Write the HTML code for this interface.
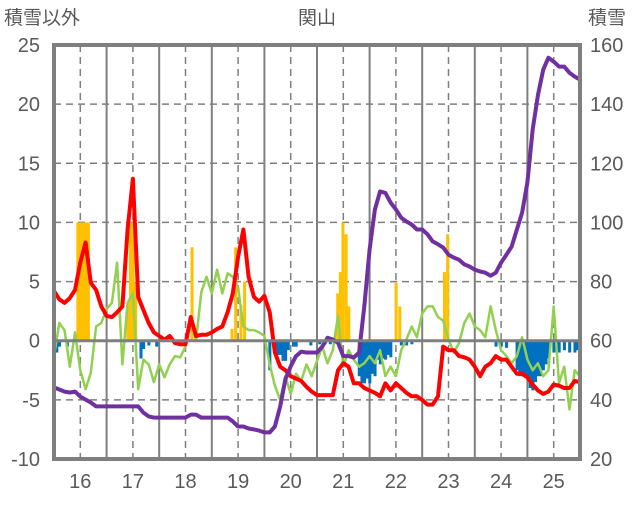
<!DOCTYPE html>
<html><head><meta charset="utf-8"><style>
body{margin:0;background:#fff;}
svg text{font-family:"Liberation Sans","Noto Sans CJK JP",sans-serif;fill:#595959;}
</style></head><body>
<svg id="c" width="636" height="501" viewBox="0 0 636 501" xmlns="http://www.w3.org/2000/svg">
<text x="317" y="24" font-size="19" text-anchor="middle">関山</text>
<text x="4" y="24" font-size="19">積雪以外</text>
<text x="588" y="24" font-size="19">積雪</text>
<g id="grid"></g><g id="bars"></g><g id="lines"></g><g id="axes"></g>
</svg>
<script>
const years=['16','17','18','19','20','21','22','23','24','25'];
const leftTicks=[25,20,15,10,5,0,-5,-10];
const rightTicks=[160,140,120,100,80,60,40,20];
// series sampled every 0.1 year (index i -> t=i/10)
const redVals=[4.2,3.5,3.2,3.6,4.3,6.6,8.3,4.9,4.3,2.9,2.1,2,2.4,2.9,9.4,13.7,3.7,2.6,1.5,0.7,0.4,0.1,0.4,-0.2,-0.3,-0.3,2,0.4,0.5,0.5,0.7,1,1.2,2.4,4,7.1,9.4,5.4,3.7,3.3,3.8,2.4,-1,-2.2,-2.5,-3,-3.2,-3.4,-3.9,-4.3,-4.6,-4.6,-4.6,-4.6,-2.5,-1.9,-2.2,-3.6,-3.6,-4,-4.2,-4.4,-4.7,-3.6,-4.2,-3.6,-4,-4.4,-4.7,-4.7,-5,-5.4,-5.4,-4.7,-0.5,-0.8,-0.8,-1.3,-1.4,-1.6,-2.2,-3,-2.2,-1.9,-1.3,-1.6,-1.6,-2.2,-2.8,-2.8,-3.1,-3.7,-4.2,-4.5,-4.3,-3.7,-3.8,-4,-4,-3.4,-3.5];
const greenVals=[-1.3,1.5,0.9,-2.2,0.7,-2.5,-4.1,-2.7,1.2,1.5,2.7,3.2,6.6,-2,3.2,4,-4.1,-1.6,-2,-3.5,-2,-3.1,-2,-1.3,-1.4,-0.5,2.1,0,4.1,5.4,4,6,4,5.7,5.4,4.5,1.2,0.9,0.9,0.7,0.4,-2,-3.8,-5,-3,-4.5,-2.8,-3.4,-2,-3,-1.7,-0.5,-1.9,-0.8,2.1,-2.2,-0.8,-1.6,-2.2,-1.9,-1.3,-1.9,-0.8,-3,-2.2,-3,-0.8,0.1,1.2,0.3,2.3,2.9,2.9,2,1.7,0.1,-1,-0.2,1.5,2.3,1.2,0.9,0.3,2.9,0.9,-0.8,-1.3,-1.9,-1.3,0.3,-1.6,-2.5,-1.9,-3,-2.5,2.9,-3.6,-2.2,-5.8,-2.5,-3];
const purpleVals=[44.2,43.5,42.8,42.5,42.8,41.1,40.1,39.1,37.8,37.8,37.8,37.8,37.8,37.8,37.8,37.8,37.8,35.7,34.4,34,34,34,34,34,34,34,35,35,34,34,34,34,34,34,32.7,31,31,30.3,30,29.6,29,29,31,37.8,47,51.3,54.8,56.3,56,56,56,58,61,60.4,59.3,54.8,54.8,54.3,56,71.6,90.8,104.4,110.5,110,106.7,104.4,101.6,100.3,99.3,97.6,97.6,96,93.6,92.6,91.5,89.1,88.1,87.4,85.8,85.1,84,83.4,83,82,83,86.4,89.1,91.8,97.6,103.3,113.5,131.5,143,151.6,155.7,154.4,152.7,152.7,150.6,149.3,148.3];
// weekly snow-change bars: position in years from start, value (left axis)
const barTimes=[0.05,0.1,0.25,0.45,0.5,0.55,0.6,0.65,1.4,1.45,1.5,1.55,1.65,1.7,1.8,1.95,2.3,2.5,2.62,3.38,3.45,3.55,3.62,4.1,4.2,4.25,4.3,4.35,4.4,4.45,4.55,4.6,4.88,5.05,5.15,5.25,5.39,5.44,5.49,5.55,5.6,5.8,5.85,5.9,5.95,6.0,6.05,6.1,6.15,6.2,6.25,6.3,6.35,6.4,6.5,6.57,6.6,6.7,6.8,7.42,7.48,8.4,8.5,8.6,8.8,8.85,8.9,8.95,9.0,9.05,9.1,9.15,9.2,9.25,9.3,9.35,9.4,9.5,9.55,9.6,9.7,9.8,9.9,9.95];
const barVals=[-1,-0.5,-0.5,10,10,10,10,10,3,10,10,5,-1.5,-0.7,-0.4,-0.5,-0.3,-0.3,7.9,1,7.9,3,5,-2.5,-1.2,-1.2,-1.2,-1.7,-1.7,-0.8,-0.5,-0.5,-0.4,-0.3,-0.3,-0.3,4,5.8,10,9,2.9,-3,-3.6,-3.6,-3.2,-3.6,-2.8,-3,-1.6,-2,-1.5,-1.6,-1.2,-1.4,4.9,2.9,-0.4,-0.4,-0.3,5.8,9,-0.5,-0.5,-0.6,-2.5,-3,-3,-2.8,-3,-4,-4.2,-3.5,-3,-3,-2.5,-2,-1.5,-1,-0.8,-1,-0.8,-1,-1,-0.8];

const X0=54,X1=580,Y0=45,Y1=459;
const xT=t=>X0+t*(X1-X0)/10;
const yL=v=>Y0+(25-v)*(Y1-Y0)/35;
const yR=v=>Y0+(160-v)*(Y1-Y0)/140;
const NS='http://www.w3.org/2000/svg';
function mk(tag,attrs,parent){const e=document.createElementNS(NS,tag);for(const k in attrs)e.setAttribute(k,attrs[k]);document.getElementById(parent).appendChild(e);return e;}

leftTicks.forEach(v=>{
  if(v!==25&&v!==-10&&v!==0){const g=mk('line',{x1:X0,x2:X1,y1:yL(v),y2:yL(v),stroke:'#7f7f7f','stroke-width':1.5,'stroke-dasharray':'7,5'},'grid');
  
  }
  const t=mk('text',{x:40,y:yL(v)+7,'font-size':20,'text-anchor':'end'},'axes');t.textContent=v;
  
  
});
rightTicks.forEach(v=>{
  const t=mk('text',{x:590,y:yR(v)+7,'font-size':20},'axes');t.textContent=v;
  
  
});
years.forEach((y,i)=>{
  const d=mk('line',{x1:xT(i+0.5),x2:xT(i+0.5),y1:Y0,y2:Y1,stroke:'#7f7f7f','stroke-width':1.5,'stroke-dasharray':'7,5'},'grid');
  
  
  if(i>0){const s=mk('line',{x1:xT(i),x2:xT(i),y1:Y0,y2:Y1,stroke:'#7f7f7f','stroke-width':2},'grid');
  
  }
  const t=mk('text',{x:xT(i+0.5),y:488,'font-size':20,'text-anchor':'middle'},'axes');t.textContent=y;
  
  
});
const bw=(X1-X0)/10*0.05;
barTimes.forEach((t,i)=>{
  const v=barVals[i];const y0=yL(0),y=yL(v);
  const r=mk('rect',{x:xT(t)-bw/2,y:Math.min(y,y0),width:bw+0.4,height:Math.abs(y-y0),fill:v>=0?'#ffc000':'#0070c0'},'bars');
  
  
});
function line(vals,yf,color,w,name){
  const p=vals.map((v,i)=>(i?'L':'M')+xT(i/10).toFixed(1)+','+yf(v).toFixed(1)).join('');
  const e=mk('path',{d:p,fill:'none',stroke:color,'stroke-width':w,'stroke-linejoin':'round'},'lines');
  
  
}
line(greenVals,yL,'#92d050',2.5,'green-series-line');
line(redVals,yL,'#ff0000',4,'red-series-line');
line(purpleVals,yR,'#7030a0',4,'purple-snow-depth-line');
const z=mk('line',{x1:X0,x2:X1,y1:yL(0),y2:yL(0),stroke:'#7f7f7f','stroke-width':3},'axes');


const b=mk('rect',{x:X0,y:Y0,width:X1-X0,height:Y1-Y0,fill:'none',stroke:'#7f7f7f','stroke-width':4},'axes');


</script>
</body></html>
